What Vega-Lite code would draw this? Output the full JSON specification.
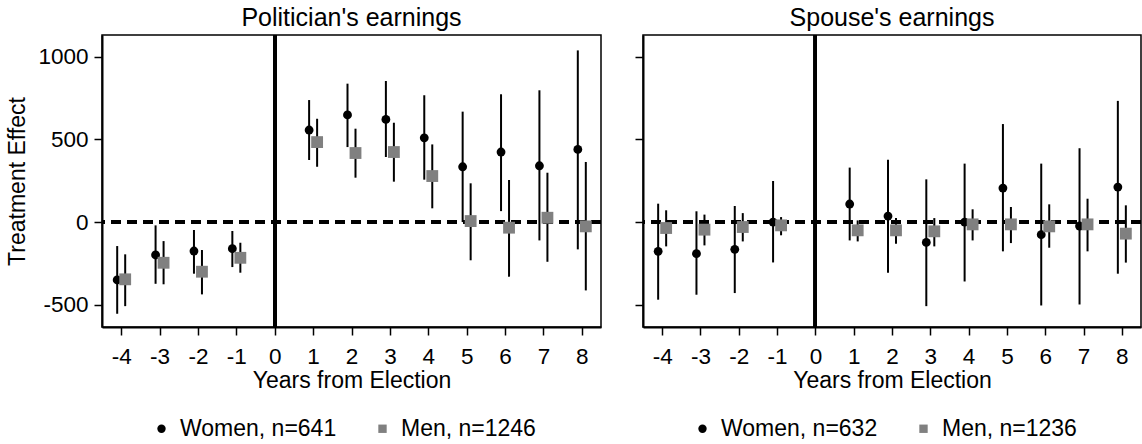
{
  "$schema": "https://vega.github.io/schema/vega-lite/v6.json",
  "padding": {"top": 4, "left": 6, "right": 1, "bottom": 0},
  "background": "white",
  "config": {
    "font": "Liberation Sans",
    "view": {"stroke": "black", "strokeWidth": 1.5},
    "axis": {"grid": false, "domainColor": "black", "domainWidth": 2, "tickColor": "black", "tickWidth": 1.5, "tickSize": 8, "labelFont": "Liberation Sans", "labelFontSize": 22.5, "labelColor": "black", "labelExpr": "'' + datum.value", "titleFont": "Liberation Sans", "titleFontSize": 23, "titleFontWeight": "normal", "titleColor": "black"},
    "title": {"font": "Liberation Sans", "fontSize": 25, "fontWeight": "normal", "color": "black", "anchor": "middle", "baseline": "alphabetic", "offset": 3},
    "legend": {"orient": "none", "direction": "horizontal", "labelFont": "Liberation Sans", "labelFontSize": 23, "labelColor": "black", "symbolSize": 70, "symbolStrokeWidth": 0, "labelOffset": 7, "columnPadding": 34, "padding": 0, "legendX": 48, "legendY": 382}
  },
  "datasets": {
    "pol": [
      {"year": -4, "group": "Women", "est": -350, "lo": -554, "hi": -145},
      {"year": -3, "group": "Women", "est": -199, "lo": -373, "hi": -20},
      {"year": -2, "group": "Women", "est": -175, "lo": -312, "hi": -48},
      {"year": -1, "group": "Women", "est": -161, "lo": -272, "hi": -54},
      {"year": 1, "group": "Women", "est": 556, "lo": 375, "hi": 737},
      {"year": 2, "group": "Women", "est": 647, "lo": 453, "hi": 836},
      {"year": 3, "group": "Women", "est": 620, "lo": 393, "hi": 852},
      {"year": 4, "group": "Women", "est": 509, "lo": 256, "hi": 766},
      {"year": 5, "group": "Women", "est": 334, "lo": 0, "hi": 667},
      {"year": 6, "group": "Women", "est": 423, "lo": 66, "hi": 772},
      {"year": 7, "group": "Women", "est": 340, "lo": -111, "hi": 796},
      {"year": 8, "group": "Women", "est": 439, "lo": -165, "hi": 1037},
      {"year": -4, "group": "Men", "est": -346, "lo": -508, "hi": -195},
      {"year": -3, "group": "Men", "est": -246, "lo": -376, "hi": -115},
      {"year": -2, "group": "Men", "est": -300, "lo": -437, "hi": -169},
      {"year": -1, "group": "Men", "est": -216, "lo": -306, "hi": -125},
      {"year": 1, "group": "Men", "est": 483, "lo": 334, "hi": 624},
      {"year": 2, "group": "Men", "est": 417, "lo": 268, "hi": 564},
      {"year": 3, "group": "Men", "est": 423, "lo": 244, "hi": 600},
      {"year": 4, "group": "Men", "est": 278, "lo": 83, "hi": 469},
      {"year": 5, "group": "Men", "est": 6, "lo": -231, "hi": 234},
      {"year": 6, "group": "Men", "est": -34, "lo": -330, "hi": 254},
      {"year": 7, "group": "Men", "est": 26, "lo": -240, "hi": 298},
      {"year": 8, "group": "Men", "est": -26, "lo": -413, "hi": 363}
    ],
    "spouse": [
      {"year": -4, "group": "Women", "est": -177, "lo": -469, "hi": 111},
      {"year": -3, "group": "Women", "est": -191, "lo": -439, "hi": 65},
      {"year": -2, "group": "Women", "est": -165, "lo": -429, "hi": 97},
      {"year": -1, "group": "Women", "est": 0, "lo": -244, "hi": 248},
      {"year": 1, "group": "Women", "est": 109, "lo": -111, "hi": 329},
      {"year": 2, "group": "Women", "est": 36, "lo": -306, "hi": 377},
      {"year": 3, "group": "Women", "est": -123, "lo": -508, "hi": 258},
      {"year": 4, "group": "Women", "est": 0, "lo": -359, "hi": 353},
      {"year": 5, "group": "Women", "est": 205, "lo": -177, "hi": 592},
      {"year": 6, "group": "Women", "est": -76, "lo": -504, "hi": 353},
      {"year": 7, "group": "Women", "est": -24, "lo": -498, "hi": 446},
      {"year": 8, "group": "Women", "est": 211, "lo": -312, "hi": 732},
      {"year": -4, "group": "Men", "est": -36, "lo": -147, "hi": 71},
      {"year": -3, "group": "Men", "est": -46, "lo": -141, "hi": 45},
      {"year": -2, "group": "Men", "est": -30, "lo": -117, "hi": 54},
      {"year": -1, "group": "Men", "est": -20, "lo": -80, "hi": 30},
      {"year": 1, "group": "Men", "est": -50, "lo": -117, "hi": 10},
      {"year": 2, "group": "Men", "est": -50, "lo": -131, "hi": 24},
      {"year": 3, "group": "Men", "est": -56, "lo": -147, "hi": 24},
      {"year": 4, "group": "Men", "est": -14, "lo": -111, "hi": 77},
      {"year": 5, "group": "Men", "est": -14, "lo": -127, "hi": 91},
      {"year": 6, "group": "Men", "est": -26, "lo": -155, "hi": 107},
      {"year": 7, "group": "Men", "est": -14, "lo": -177, "hi": 141},
      {"year": 8, "group": "Men", "est": -70, "lo": -245, "hi": 101}
    ]
  },
  "spacing": 29,
  "resolve": {"scale": {"color": "independent", "shape": "independent", "size": "independent"}},
  "hconcat": [
    {
      "title": "Politician's earnings",
      "width": 499,
      "height": 292,
      "data": {"name": "pol"},
      "layer": [
        {
          "mark": {"type": "rule", "strokeDash": [10, 6], "strokeWidth": 3, "color": "black"},
          "encoding": {"y": {"datum": 0, "type": "quantitative", "scale": {"domain": [-634, 1130], "nice": false, "zero": false}, "axis": {"title": "Treatment Effect", "values": [-500, 0, 500, 1000], "labelPadding": 6, "titlePadding": 8}}}
        },
        {
          "mark": {"type": "rule", "strokeWidth": 3, "color": "black"},
          "encoding": {"x": {"datum": 0, "type": "quantitative", "scale": {"domain": [-4.5, 8.5], "nice": false, "zero": false}, "axis": {"title": "Years from Election", "values": [-4, -3, -2, -1, 0, 1, 2, 3, 4, 5, 6, 7, 8], "labelPadding": 10, "titlePadding": 2}}}
        },
        {
          "transform": [{"filter": "datum.group == 'Women'"}],
          "mark": {"type": "rule", "strokeWidth": 2, "color": "black", "xOffset": -4},
          "encoding": {
            "x": {"field": "year", "type": "quantitative", "scale": {"domain": [-4.5, 8.5], "nice": false, "zero": false}, "axis": {"title": "Years from Election", "values": [-4, -3, -2, -1, 0, 1, 2, 3, 4, 5, 6, 7, 8], "labelPadding": 10, "titlePadding": 2}},
            "y": {"field": "lo", "type": "quantitative", "scale": {"domain": [-634, 1130], "nice": false, "zero": false}, "axis": {"title": "Treatment Effect", "values": [-500, 0, 500, 1000], "labelPadding": 6, "titlePadding": 8}},
            "y2": {"field": "hi"}
          }
        },
        {
          "transform": [{"filter": "datum.group == 'Men'"}],
          "mark": {"type": "rule", "strokeWidth": 2, "color": "black", "xOffset": 4},
          "encoding": {
            "x": {"field": "year", "type": "quantitative"},
            "y": {"field": "lo", "type": "quantitative"},
            "y2": {"field": "hi"}
          }
        },
        {
          "transform": [{"filter": "datum.group == 'Women'"}],
          "mark": {"type": "point", "filled": true, "opacity": 1, "strokeWidth": 0, "xOffset": -4, "size": 78},
          "encoding": {
            "x": {"field": "year", "type": "quantitative"},
            "y": {"field": "est", "type": "quantitative"},
            "shape": {"field": "group", "type": "nominal", "scale": {"domain": ["Women", "Men"], "range": ["circle", "square"]}, "legend": {"title": null, "labelExpr": "datum.label == 'Women' ? 'Women, n=641' : 'Men, n=1246'"}},
            "color": {"field": "group", "type": "nominal", "scale": {"domain": ["Women", "Men"], "range": ["black", "#808080"]}, "legend": {"title": null, "labelExpr": "datum.label == 'Women' ? 'Women, n=641' : 'Men, n=1246'"}}
          }
        },
        {
          "transform": [{"filter": "datum.group == 'Men'"}],
          "mark": {"type": "point", "filled": true, "opacity": 1, "strokeWidth": 0, "xOffset": 4, "size": 140},
          "encoding": {
            "x": {"field": "year", "type": "quantitative"},
            "y": {"field": "est", "type": "quantitative"},
            "shape": {"field": "group", "type": "nominal", "scale": {"domain": ["Women", "Men"], "range": ["circle", "square"]}, "legend": {"title": null, "labelExpr": "datum.label == 'Women' ? 'Women, n=641' : 'Men, n=1246'"}},
            "color": {"field": "group", "type": "nominal", "scale": {"domain": ["Women", "Men"], "range": ["black", "#808080"]}, "legend": {"title": null, "labelExpr": "datum.label == 'Women' ? 'Women, n=641' : 'Men, n=1246'"}}
          }
        }
      ]
    },
    {
      "title": "Spouse's earnings",
      "width": 498,
      "height": 292,
      "data": {"name": "spouse"},
      "layer": [
        {
          "mark": {"type": "rule", "strokeDash": [10, 6], "strokeWidth": 3, "color": "black"},
          "encoding": {"y": {"datum": 0, "type": "quantitative", "scale": {"domain": [-634, 1130], "nice": false, "zero": false}, "axis": {"title": null, "labels": false, "values": [-500, 0, 500, 1000]}}}
        },
        {
          "mark": {"type": "rule", "strokeWidth": 3, "color": "black"},
          "encoding": {"x": {"datum": 0, "type": "quantitative", "scale": {"domain": [-4.5, 8.5], "nice": false, "zero": false}, "axis": {"title": "Years from Election", "values": [-4, -3, -2, -1, 0, 1, 2, 3, 4, 5, 6, 7, 8], "labelPadding": 10, "titlePadding": 2}}}
        },
        {
          "transform": [{"filter": "datum.group == 'Women'"}],
          "mark": {"type": "rule", "strokeWidth": 2, "color": "black", "xOffset": -4},
          "encoding": {
            "x": {"field": "year", "type": "quantitative", "scale": {"domain": [-4.5, 8.5], "nice": false, "zero": false}, "axis": {"title": "Years from Election", "values": [-4, -3, -2, -1, 0, 1, 2, 3, 4, 5, 6, 7, 8], "labelPadding": 10, "titlePadding": 2}},
            "y": {"field": "lo", "type": "quantitative", "scale": {"domain": [-634, 1130], "nice": false, "zero": false}, "axis": {"title": null, "labels": false, "values": [-500, 0, 500, 1000]}},
            "y2": {"field": "hi"}
          }
        },
        {
          "transform": [{"filter": "datum.group == 'Men'"}],
          "mark": {"type": "rule", "strokeWidth": 2, "color": "black", "xOffset": 4},
          "encoding": {
            "x": {"field": "year", "type": "quantitative"},
            "y": {"field": "lo", "type": "quantitative"},
            "y2": {"field": "hi"}
          }
        },
        {
          "transform": [{"filter": "datum.group == 'Women'"}],
          "mark": {"type": "point", "filled": true, "opacity": 1, "strokeWidth": 0, "xOffset": -4, "size": 78},
          "encoding": {
            "x": {"field": "year", "type": "quantitative"},
            "y": {"field": "est", "type": "quantitative"},
            "shape": {"field": "group", "type": "nominal", "scale": {"domain": ["Women", "Men"], "range": ["circle", "square"]}, "legend": {"title": null, "labelExpr": "datum.label == 'Women' ? 'Women, n=632' : 'Men, n=1236'"}},
            "color": {"field": "group", "type": "nominal", "scale": {"domain": ["Women", "Men"], "range": ["black", "#808080"]}, "legend": {"title": null, "labelExpr": "datum.label == 'Women' ? 'Women, n=632' : 'Men, n=1236'"}}
          }
        },
        {
          "transform": [{"filter": "datum.group == 'Men'"}],
          "mark": {"type": "point", "filled": true, "opacity": 1, "strokeWidth": 0, "xOffset": 4, "size": 140},
          "encoding": {
            "x": {"field": "year", "type": "quantitative"},
            "y": {"field": "est", "type": "quantitative"},
            "shape": {"field": "group", "type": "nominal", "scale": {"domain": ["Women", "Men"], "range": ["circle", "square"]}, "legend": {"title": null, "labelExpr": "datum.label == 'Women' ? 'Women, n=632' : 'Men, n=1236'"}},
            "color": {"field": "group", "type": "nominal", "scale": {"domain": ["Women", "Men"], "range": ["black", "#808080"]}, "legend": {"title": null, "labelExpr": "datum.label == 'Women' ? 'Women, n=632' : 'Men, n=1236'"}}
          }
        }
      ]
    }
  ]
}
